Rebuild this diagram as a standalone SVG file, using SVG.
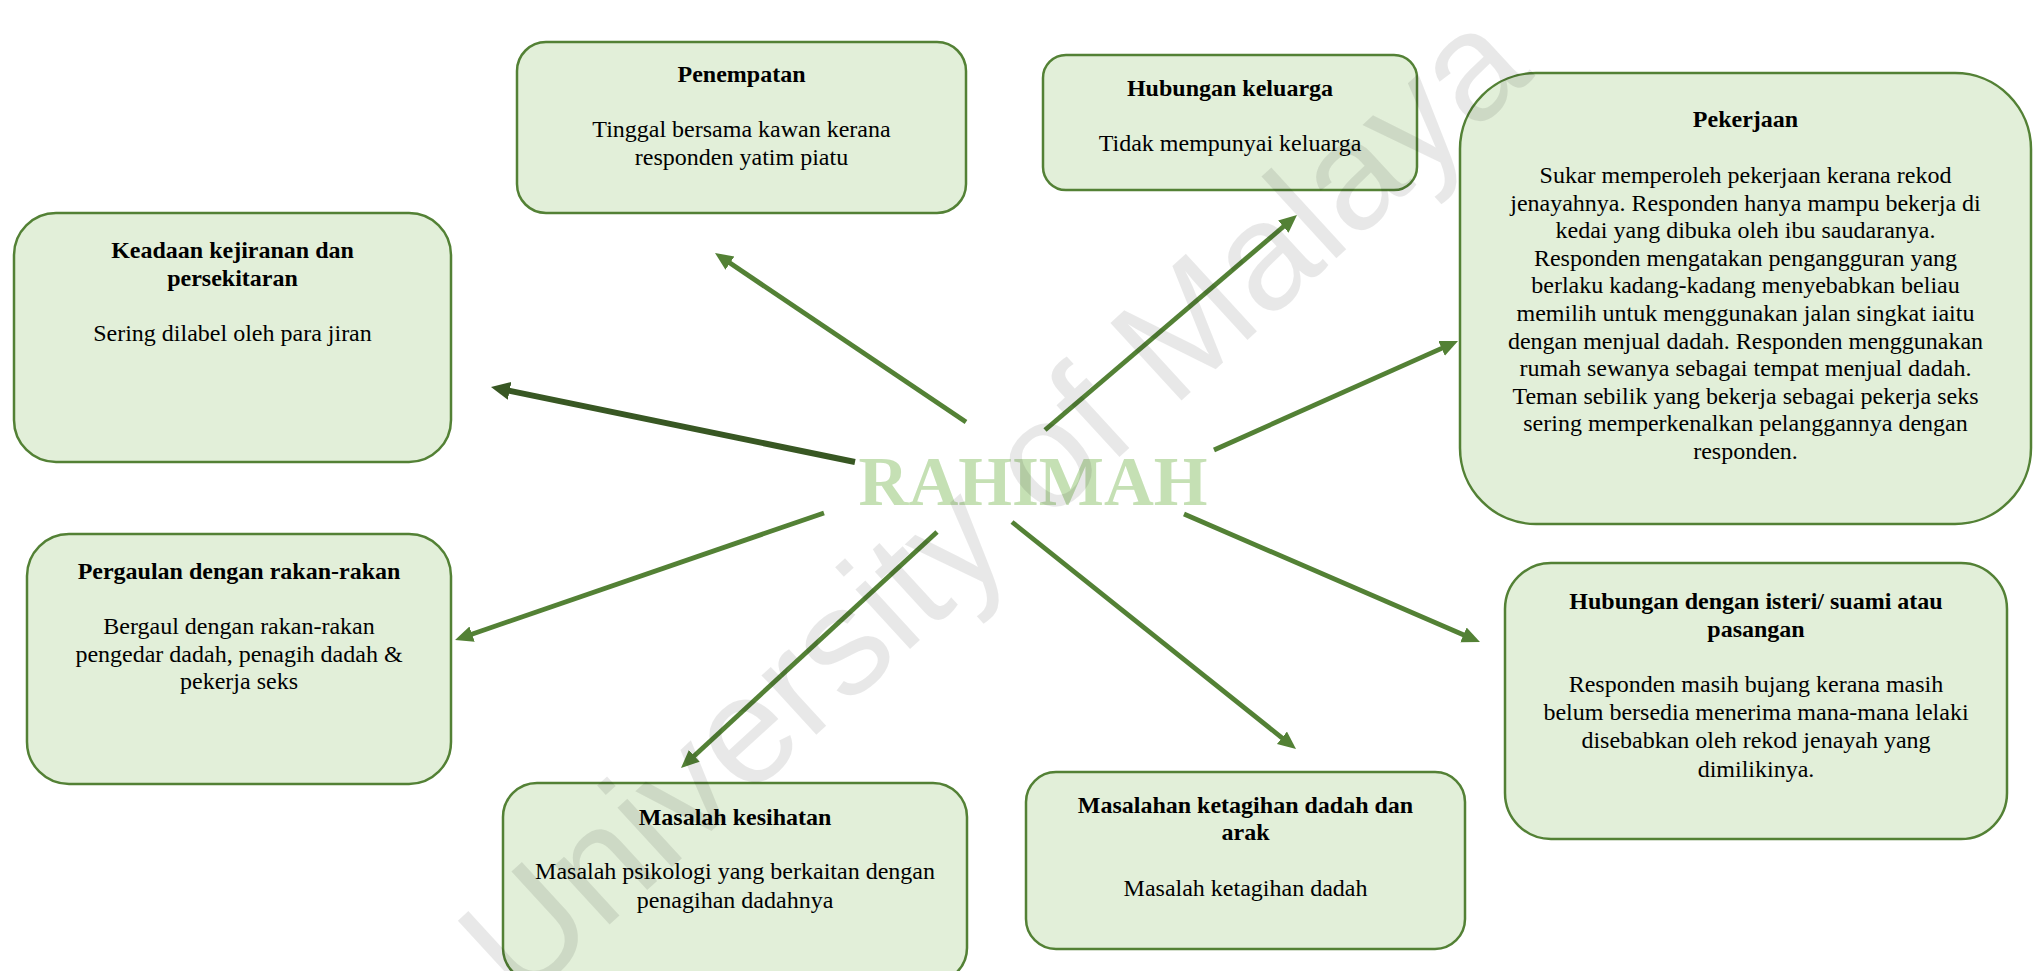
<svg xmlns="http://www.w3.org/2000/svg" width="2038" height="971" viewBox="0 0 2038 971">
<style>
.box{fill:#E2EFD9;stroke:#538135;stroke-width:2.5}
.t{font-family:"Liberation Serif","Times New Roman",serif;font-size:24px;fill:#000;text-anchor:middle}
.b{font-weight:bold}
.arr{stroke:#538135;stroke-width:4.8;fill:none;marker-end:url(#ah)}
.arrd{stroke:#385723;stroke-width:6;fill:none;marker-end:url(#ahd)}
.wm{font-family:"Liberation Sans",Arial,sans-serif;font-size:153px;fill:#000;fill-opacity:0.09;text-anchor:middle}
</style>
<defs>
<marker id="ah" markerUnits="userSpaceOnUse" markerWidth="20" markerHeight="18" refX="8" refY="8" orient="auto"><path d="M0,0 L18,8 L0,16 z" fill="#538135"/></marker>
<marker id="ahd" markerUnits="userSpaceOnUse" markerWidth="21" markerHeight="20" refX="9" refY="9" orient="auto"><path d="M0,0 L19,9 L0,18 z" fill="#385723"/></marker>
</defs>
<rect width="2038" height="971" fill="#fff"/>
<g id="connectors">
<line class="arr" x1="966" y1="422" x2="723.3" y2="258.6"/>
<line class="arrd" x1="855" y1="462" x2="500.8" y2="389"/>
<line class="arr" x1="1045" y1="430" x2="1289.4" y2="221.5"/>
<line class="arr" x1="1214" y1="450" x2="1448.9" y2="345.1"/>
<line class="arr" x1="824" y1="513" x2="464.5" y2="636.7"/>
<line class="arr" x1="937" y1="532" x2="688.4" y2="761.2"/>
<line class="arr" x1="1012" y1="522" x2="1288.2" y2="742.8"/>
<line class="arr" x1="1184" y1="514" x2="1470.8" y2="638"/>
</g>
<g id="center">
<text x="1033" y="505" font-family="Liberation Serif,Times New Roman,serif" font-weight="bold" font-size="69" fill="#C5E0B4" text-anchor="middle">RAHIMAH</text>
</g>
<g id="penempatan">
<rect class="box" x="517" y="42" width="449" height="171" rx="29"/>
<text class="t b" x="741.5" y="82">Penempatan</text>
<text class="t" x="741.5" y="137">Tinggal bersama kawan kerana</text>
<text class="t" x="741.5" y="165">responden yatim piatu</text>
</g>
<g id="keadaan">
<rect class="box" x="14" y="213" width="437" height="249" rx="42"/>
<text class="t b" x="232.5" y="258">Keadaan kejiranan dan</text>
<text class="t b" x="232.5" y="286">persekitaran</text>
<text class="t" x="232.5" y="341">Sering dilabel oleh para jiran</text>
</g>
<g id="keluarga">
<rect class="box" x="1043" y="55" width="374" height="135" rx="23"/>
<text class="t b" x="1230" y="96">Hubungan keluarga</text>
<text class="t" x="1230" y="151">Tidak mempunyai keluarga</text>
</g>
<g id="pekerjaan">
<rect class="box" x="1460" y="73" width="571" height="451" rx="76"/>
<text class="t b" x="1745.5" y="127">Pekerjaan</text>
<text class="t" x="1745.5" y="183">Sukar memperoleh pekerjaan kerana rekod</text>
<text class="t" x="1745.5" y="210.6">jenayahnya. Responden hanya mampu bekerja di</text>
<text class="t" x="1745.5" y="238.2">kedai yang dibuka oleh ibu saudaranya.</text>
<text class="t" x="1745.5" y="265.8">Responden mengatakan pengangguran yang</text>
<text class="t" x="1745.5" y="293.4">berlaku kadang-kadang menyebabkan beliau</text>
<text class="t" x="1745.5" y="321">memilih untuk menggunakan jalan singkat iaitu</text>
<text class="t" x="1745.5" y="348.6">dengan menjual dadah. Responden menggunakan</text>
<text class="t" x="1745.5" y="376.2">rumah sewanya sebagai tempat menjual dadah.</text>
<text class="t" x="1745.5" y="403.8">Teman sebilik yang bekerja sebagai pekerja seks</text>
<text class="t" x="1745.5" y="431.4">sering memperkenalkan pelanggannya dengan</text>
<text class="t" x="1745.5" y="459">responden.</text>
</g>
<g id="pergaulan">
<rect class="box" x="27" y="534" width="424" height="250" rx="42"/>
<text class="t b" x="239" y="579">Pergaulan dengan rakan-rakan</text>
<text class="t" x="239" y="634">Bergaul dengan rakan-rakan</text>
<text class="t" x="239" y="662">pengedar dadah, penagih dadah &amp;</text>
<text class="t" x="239" y="689">pekerja seks</text>
</g>
<g id="kesihatan">
<rect class="box" x="503" y="783" width="464" height="199" rx="34"/>
<text class="t b" x="735" y="825">Masalah kesihatan</text>
<text class="t" x="735" y="879">Masalah psikologi yang berkaitan dengan</text>
<text class="t" x="735" y="908">penagihan dadahnya</text>
</g>
<g id="ketagihan">
<rect class="box" x="1026" y="772" width="439" height="177" rx="30"/>
<text class="t b" x="1245.5" y="813">Masalahan ketagihan dadah dan</text>
<text class="t b" x="1245.5" y="840">arak</text>
<text class="t" x="1245.5" y="896">Masalah ketagihan dadah</text>
</g>
<g id="isteri">
<rect class="box" x="1505" y="563" width="502" height="276" rx="46"/>
<text class="t b" x="1756" y="609">Hubungan dengan isteri/ suami atau</text>
<text class="t b" x="1756" y="637">pasangan</text>
<text class="t" x="1756" y="692">Responden masih bujang kerana masih</text>
<text class="t" x="1756" y="720">belum bersedia menerima mana-mana lelaki</text>
<text class="t" x="1756" y="748">disebabkan oleh rekod jenayah yang</text>
<text class="t" x="1756" y="777">dimilikinya.</text>
</g>
<text class="wm" transform="translate(1028,541) rotate(-42.5)">University of Malaya</text>
</svg>
